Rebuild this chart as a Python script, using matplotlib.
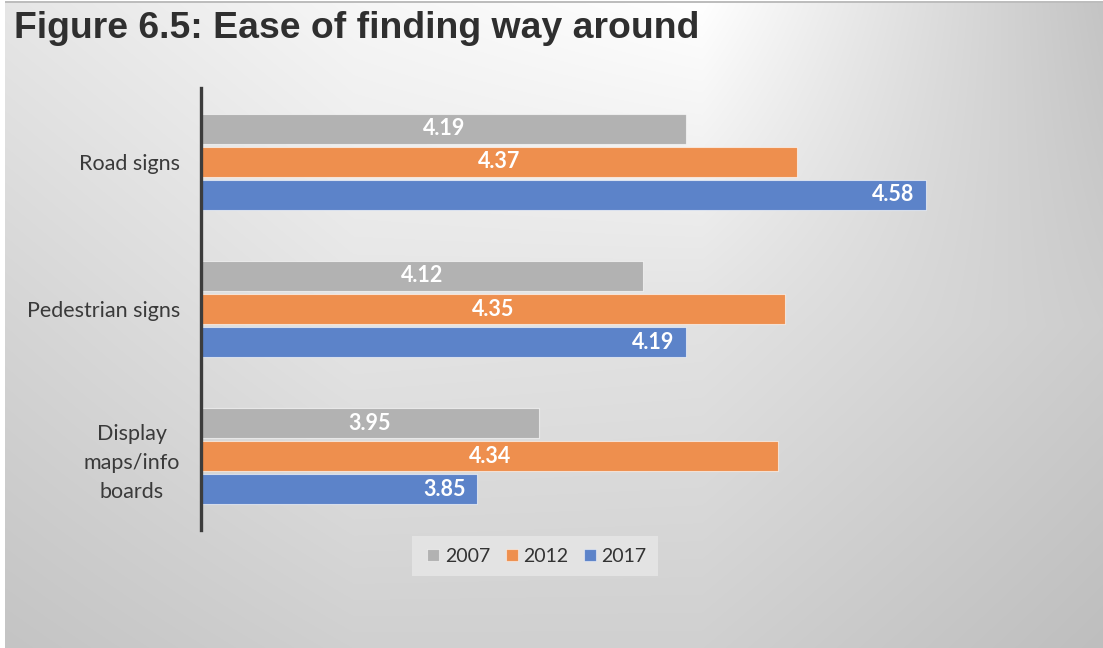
import numpy as np
import matplotlib
matplotlib.use("Agg")
import matplotlib.pyplot as plt
from matplotlib.patches import Rectangle
from matplotlib.lines import Line2D

# ---- data ----
categories = ["Road signs", "Pedestrian signs", "Display\nmaps/info\nboards"]
years = ["2007", "2012", "2017"]
scores_2007 = [4.19, 4.12, 3.95]
scores_2012 = [4.37, 4.35, 4.34]
scores_2017 = [4.58, 4.19, 3.85]
series = [scores_2007, scores_2012, scores_2017]
colors = ["#b2b2b2", "#ee8f4e", "#5c83c9"]

W, H, DPI = 1103, 648, 100
fig = plt.figure(figsize=(W / DPI, H / DPI), dpi=DPI, facecolor="white")

# ---- soft gradient backdrop ----
bg = fig.add_axes([0, 0, 1, 1])
bg.set_xlim(0, W)
bg.set_ylim(H, 0)
bg.axis("off")
gx = np.array([0, 350, 700, W])
gy = np.array([0, 324, H])
levels = np.array([
    [230, 246, 255, 196],
    [212, 228, 226, 205],
    [196, 208, 208, 190],
], dtype=float)
xs = np.arange(W)
ys = np.arange(H)
rows = np.array([np.interp(xs, gx, r) for r in levels])          # 3 x W
grid = np.array([np.interp(ys, gy, rows[:, i]) for i in range(W)]).T  # H x W
img = np.dstack([grid, grid, grid]) / 255.0
bg.imshow(img, extent=(5, W, H, 3), aspect="auto", zorder=0)
bg.add_patch(Rectangle((5, 0.5), W, 2.5, color="#bdbdbd", lw=0, zorder=1))

# ---- title ----
fig.text(14 / W, 1 - 29 / H, "Figure 6.5: Ease of finding way around",
         family="Liberation Sans", weight="bold", fontsize=26.9,
         color="#2f2f2f", ha="left", va="center")

# ---- bar chart ----
left_px, right_px, top_px, bot_px = 201, 1061, 88, 530
ax = fig.add_axes([left_px / W, 1 - bot_px / H,
                   (right_px - left_px) / W, (bot_px - top_px) / H])
ax.set_facecolor("none")
ax.set_xlim(3.4, 4.8)
ax.set_ylim(2.5, -0.5)

y = np.arange(len(categories))
step = 0.224
height = 0.205
for i, (vals, col) in enumerate(zip(series, colors)):
    pos = y + (i - 1) * step
    ax.barh(pos, np.array(vals) - 3.4, left=3.4, height=height, color=col,
            edgecolor=(1, 1, 1, 0.6), linewidth=0.8, zorder=2)
    for p, v in zip(pos, vals):
        if i == 2:
            xt = v - 0.054
        else:
            xt = (3.4 + v) / 2
        ax.text(xt, p, f"{v:.2f}", ha="center", va="center", color="white",
                family="Lato", weight="bold", fontsize=15.5, zorder=3)

for s in ["top", "right", "bottom"]:
    ax.spines[s].set_visible(False)
ax.spines["left"].set_color("#3c3c3c")
ax.spines["left"].set_linewidth(2.4)
ax.set_xticks([])
ax.set_yticks(y)
ax.set_yticklabels(categories, family="Lato", fontsize=15.5, color="#3a3a3a",
                   multialignment="center", linespacing=1.55)
ax.tick_params(axis="y", length=0, pad=15)

# ---- legend ----
handles = [Line2D([], [], marker="s", linestyle="none", markersize=9,
                  markerfacecolor=c, markeredgecolor=(1, 1, 1, 0.5),
                  markeredgewidth=0.8) for c in colors]
leg = fig.legend(handles, years, loc="center", ncol=3,
                 bbox_to_anchor=(535 / W, 1 - 556 / H),
                 prop={"family": "Lato", "size": 14}, frameon=True,
                 handletextpad=0.1, columnspacing=0.6, handlelength=1.0,
                 borderpad=0.6, borderaxespad=0, fancybox=False)
leg.get_frame().set_facecolor("#e6e6e6")
leg.get_frame().set_edgecolor("none")
leg.get_frame().set_alpha(0.85)
for t in leg.get_texts():
    t.set_color("#333333")

fig.savefig("out.png", dpi=DPI, facecolor="white")
